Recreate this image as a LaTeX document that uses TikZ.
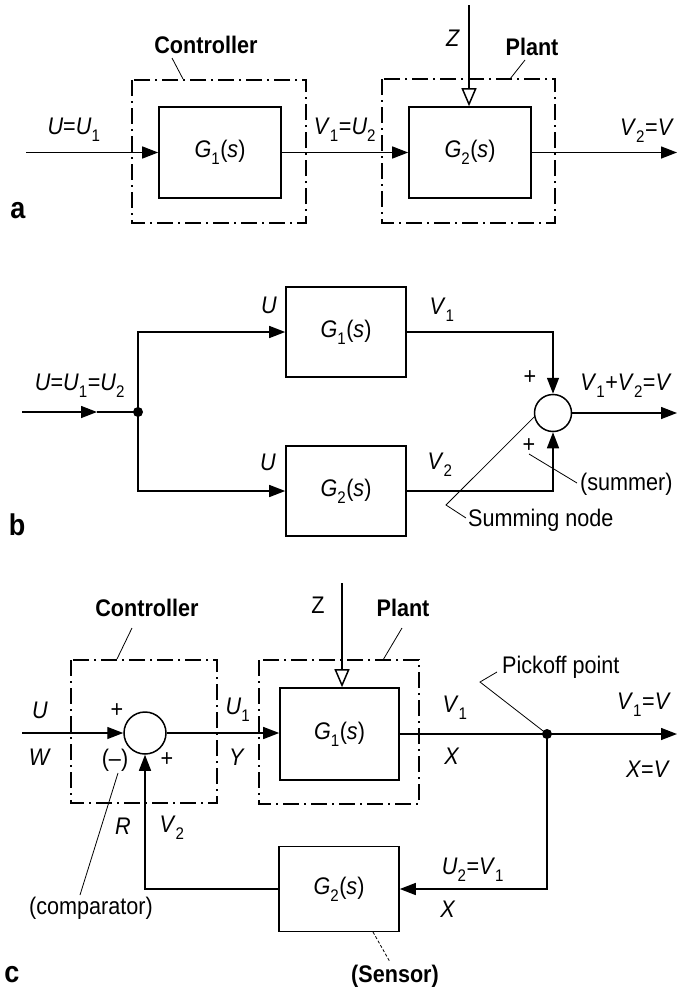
\documentclass[tikz,border=0pt]{standalone}
\usepackage{fontspec}
\setmainfont{Liberation Sans}[FakeStretch=0.9]
\usetikzlibrary{arrows.meta,calc}
\newcommand\myit[1]{\textit{#1}}
\newcommand\mysub[1]{\raisebox{-0.15em}{\textsubscript{#1}}}
\begin{document}
\begin{tikzpicture}[x=1pt,y=-1pt,
  every node/.style={font=\fontsize{24}{28}\selectfont, inner sep=0pt},
  blk/.style={draw, line width=1.6pt, minimum width=120pt, minimum height=90pt},
  frame/.style={line width=1.6pt, dash pattern=on 16pt off 5pt on 2pt off 5pt},
  conn/.style={line width=1.4pt},
  arr/.style={conn, -{Triangle[length=16pt,width=12pt]}},
  openarr/.style={conn, -{Triangle[open,length=18pt,width=15pt,line width=1.5pt]}},
  sumc/.style={draw, circle, line width=1.5pt},
  dotn/.style={fill, circle, minimum size=10pt},
  lead/.style={line width=0.8pt},
  bf/.style={font=\fontsize{24}{28}\selectfont\bfseries},
  panel/.style={font=\fontsize{30}{34}\selectfont\bfseries}
]
\useasboundingbox (0,0) rectangle (678,993);

% ---------------- panel a ----------------
\node[blk, minimum width=122pt, minimum height=91pt] (G1a) at (220,152.5) {\myit{G}\mysub{1}(\myit{s})};
\node[blk, minimum width=122pt, minimum height=91pt] (G2a) at (470,152.5) {\myit{G}\mysub{2}(\myit{s})};
\draw[frame] (132,80) rectangle (306,223);
\draw[frame] (382,79) rectangle (555,223);
\coordinate (ina) at (26,152.5);
\coordinate (outa) at (677,152.5);
\coordinate (za) at (469,5);
\draw[arr] (ina) -- (G1a);
\draw[arr] (G1a) -- (G2a);
\draw[arr] (G2a) -- (outa);
\draw[openarr] (za) -- (za |- G2a.north);
\node[bf] (ctrla) at (206,45) {Controller};
\draw[lead] (172,58) -- (183,79);
\node[bf] (planta) at (532,47) {Plant};
\draw[lead] (525,60) -- (510,79);
\node (zla) at (453,38) {\myit{Z}};
\node (uua) at (74,130) {\myit{U}=\myit{U}\mysub{1}};
\node (vua) at (345,130) {\myit{V}\mysub{1}=\myit{U}\mysub{2}};
\node (vva) at (647,131) {\myit{V}\mysub{2}=\myit{V}};
\node[panel] (pa) at (18,211) {a};

% ---------------- panel b ----------------
\node[blk] (G1b) at (346,332) {\myit{G}\mysub{1}(\myit{s})};
\node[blk] (G2b) at (346,491) {\myit{G}\mysub{2}(\myit{s})};
\node[dotn] (jb) at (138,412) {};
\node[sumc, minimum size=37pt] (sb) at (553,413) {};
\coordinate (inb) at (22,412);
\coordinate (midb) at (97,412);
\coordinate (outb) at (677,413);
\draw[arr] (inb) -- (midb);
\draw[conn] (midb) -- (jb.center);
\draw[arr] (jb.center) |- (G1b.west);
\draw[arr] (jb.center) |- (G2b.west);
\draw[arr] (G1b.east) -| (sb.north);
\draw[arr] (G2b.east) -| (sb.south);
\draw[arr] (sb.east) -- (outb);
\node (ub) at (80,386) {\myit{U}=\myit{U}\mysub{1}=\myit{U}\mysub{2}};
\node (u1b) at (269,305) {\myit{U}};
\node (u2b) at (268,462) {\myit{U}};
\node (v1b) at (442,310) {\myit{V}\mysub{1}};
\node (v2b) at (440,465) {\myit{V}\mysub{2}};
\node (p1b) at (530,378) {+};
\node (p2b) at (529,446) {+};
\node (vvb) at (626,386) {\myit{V}\mysub{1}+\myit{V}\mysub{2}=\myit{V}};
\node[anchor=west] (summer) at (580,484) {(summer)};
\node[anchor=west] (snode) at (468,520) {Summing node};
\draw[lead] (sb.192) -- (446,505) -- (466,518);
\draw[lead] (529,454) -- (577,483);
\node[panel] (pb) at (17,525) {b};

% ---------------- panel c ----------------
\node[sumc, minimum size=42pt] (sc) at (145,733) {};
\node[blk, minimum width=119pt, minimum height=92pt] (G1c) at (339.5,734) {\myit{G}\mysub{1}(\myit{s})};
\node[blk, minimum width=120pt, minimum height=85pt] (G2c) at (339,889) {\myit{G}\mysub{2}(\myit{s})};
\node[dotn] (pk) at (547,734) {};
\draw[frame] (71,660) rectangle (217,803);
\draw[frame] (259,660) rectangle (419,804);
\coordinate (inc) at (22,733);
\coordinate (outc) at (677,734);
\coordinate (zc) at (342,583);
\draw[arr] (inc) -- (sc.west);
\draw[arr] (sc.east) -- (G1c.west |- sc.east);
\draw[conn] (G1c.east) -- (pk.center);
\draw[arr] (pk.center) -- (outc);
\draw[arr] (pk.center) |- (G2c.east);
\draw[arr] (G2c.west) -| (sc.south);
\draw[openarr] (zc) -- (zc |- G1c.north);
\node[bf] (ctrlc) at (147,608) {Controller};
\draw[lead] (132,628) -- (117,659);
\node (zlc) at (318,605) {Z};
\node[bf] (plantc) at (403,608) {Plant};
\draw[lead] (402,628) -- (383,660);
\node (uc) at (40,710) {\myit{U}};
\node (wc) at (40,757) {\myit{W}};
\node (pc1) at (117,711) {+};
\node (mc) at (115,760) {(--)};
\node (pc2) at (167,760) {+};
\node (u1c) at (238,710) {\myit{U}\mysub{1}};
\node (yc) at (237,757) {\myit{Y}};
\node (rc) at (123,826) {\myit{R}};
\node (v2c) at (172,828) {\myit{V}\mysub{2}};
\node (comp) at (91,908) {(comparator)};
\draw[lead] (118,773) -- (80,895);
\node (v1c) at (455,708) {\myit{V}\mysub{1}};
\node (xc1) at (452,756) {\myit{X}};
\node[anchor=west] (pko) at (502,667) {Pickoff point};
\draw[lead] (pk.center) -- (480,682) -- (497,672);
\node (vvc) at (644,705) {\myit{V}\mysub{1}=\myit{V}};
\node (xvc) at (648,769) {\myit{X}=\myit{V}};
\node (u2c) at (473,870) {\myit{U}\mysub{2}=\myit{V}\mysub{1}};
\node (xc2) at (448,909) {\myit{X}};
\node[bf] (sens) at (395,976) {(Sensor)};
\draw[lead, densely dashed] (373,932) -- (390,962);
\node[panel] (pc) at (12,975) {c};
\end{tikzpicture}
\end{document}
